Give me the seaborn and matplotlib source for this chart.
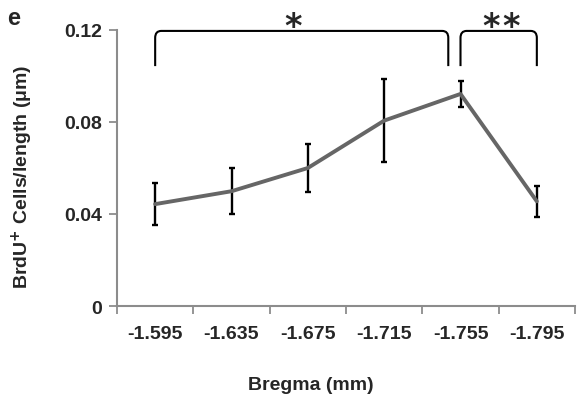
import matplotlib
matplotlib.use("Agg")
import matplotlib.pyplot as plt
from matplotlib.path import Path
from matplotlib.patches import PathPatch
import seaborn as sns
import pandas as pd
import numpy as np

bregma = ["-1.595", "-1.635", "-1.675", "-1.715", "-1.755", "-1.795"]
cells = [0.0443, 0.0499, 0.0600, 0.0806, 0.0922, 0.0455]
sem = [0.0091, 0.0100, 0.0105, 0.0181, 0.0057, 0.0068]
yticks = [0, 0.04, 0.08, 0.12]
ytick_labels = ["0", "0.04", "0.08", "0.12"]

sns.set_style("white")
plt.rcParams['font.family'] = ['Liberation Sans', 'DejaVu Sans']

df = pd.DataFrame({"pos": np.arange(len(bregma)), "bregma": bregma,
                   "cells": cells, "sem": sem})

fig = plt.figure(figsize=(5.87, 4.02), dpi=100)
ax = fig.add_axes([117/587, 1-307/402, (575-117)/587, (307-31)/402])

ax.errorbar(df["pos"], df["cells"], yerr=df["sem"], fmt="none",
            ecolor="black", elinewidth=1.7, capsize=2.2, capthick=1.7, zorder=3)
sns.lineplot(data=df, x="pos", y="cells", color="#666666", linewidth=2.8,
             ax=ax, zorder=4, legend=False)

FS = 14
ax.set_xlim(-0.5, 5.5)
ax.set_ylim(0, 0.12)
ax.set_yticks(yticks)
ax.set_yticklabels(ytick_labels, fontsize=FS, fontweight="bold")
ax.set_xticks(df["pos"])
ax.set_xticklabels(bregma, fontsize=FS, fontweight="bold")
ax.set_xticks(np.arange(-0.5, 6, 1), minor=True)
ax.tick_params(axis="x", which="major", length=0, pad=14)
ax.tick_params(axis="x", which="minor", length=6, width=1.3, color="#8c8c8c",
               direction="out", bottom=True)
ax.tick_params(axis="y", which="major", length=6, width=1.3, color="#8c8c8c",
               direction="out", left=True, pad=5)

for s in ["top", "right"]:
    ax.spines[s].set_visible(False)
for s in ["left", "bottom"]:
    ax.spines[s].set_color("#8c8c8c")
    ax.spines[s].set_linewidth(1.5)

ax.set_xlabel("Bregma (mm)", fontsize=FS, fontweight="bold")
ax.xaxis.set_label_coords((311-117)/458, (307-385)/276)
ax.xaxis.label.set_va("center")
ax.set_ylabel("BrdU$^{\\mathbf{+}}$ Cells/length (μm)", fontsize=FS,
              fontweight="bold")
ax.yaxis.set_label_coords((22-117)/458, (307-177)/276)
ax.yaxis.label.set_va("center")


def bracket(x0, x1, ytop, ybot, r=0.08, ry=0.003):
    verts = [(x0, ybot), (x0, ytop - ry), (x0, ytop), (x0 + r, ytop),
             (x1 - r, ytop), (x1, ytop), (x1, ytop - ry), (x1, ybot)]
    codes = [Path.MOVETO, Path.LINETO, Path.CURVE3, Path.CURVE3,
             Path.LINETO, Path.CURVE3, Path.CURVE3, Path.LINETO]
    p = PathPatch(Path(verts, codes), fill=False, edgecolor="black",
                  linewidth=1.5, clip_on=False, zorder=5)
    ax.add_patch(p)


bracket(0.0, 3.84, 0.1196, 0.1043)
bracket(4.0, 5.0, 0.1196, 0.1043)
for xs in [1.81, 4.40, 4.66]:
    ax.text(xs, 0.1172, "*", ha="center", va="baseline", fontsize=24,
            fontweight="bold", family="DejaVu Sans", clip_on=False)

fig.text(7/587, 1-25/402, "e", fontsize=17, fontweight="bold", va="baseline")

fig.savefig("out.png", dpi=100)
